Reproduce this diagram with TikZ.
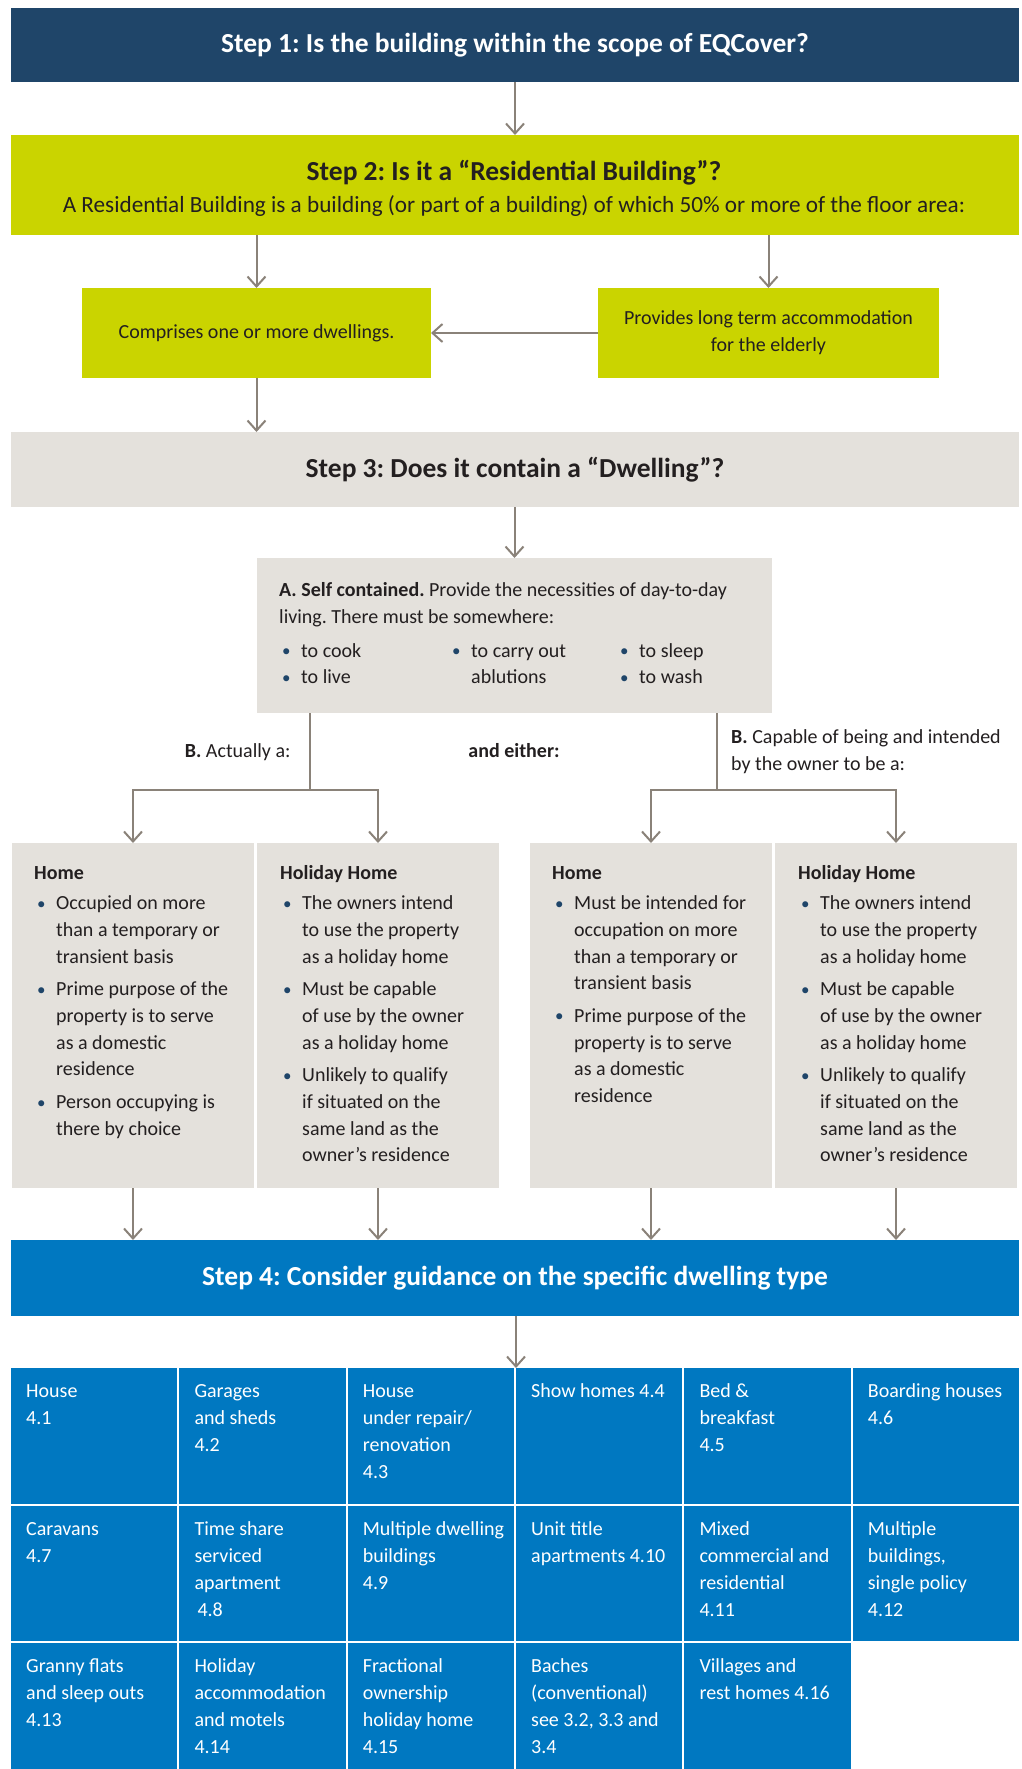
\documentclass[tikz,border=0pt]{standalone}
\usepackage{fontspec}
\setmainfont{Carlito}
\usetikzlibrary{arrows.meta}
\definecolor{navy}{HTML}{1F4569}
\definecolor{lime}{HTML}{CAD400}
\definecolor{greybox}{HTML}{E4E1DC}
\definecolor{bluebox}{HTML}{0078C1}
\definecolor{arrowc}{HTML}{8A8279}
\definecolor{bul}{HTML}{1F4569}
\definecolor{ink}{HTML}{231F20}
\frenchspacing
\newcommand\hv{\bfseries}
\newcommand\Bu{\makebox[19pt][l]{\textcolor{bul}{\raisebox{0.5pt}{\scalebox{0.85}{•}}}}}
\newcommand\Co{\hspace*{19pt}}
\newcommand\Bi{\hspace*{3pt}\Bu}
\newcommand\Ci{\hspace*{22pt}}
\tikzset{
  rbox/.style={inner sep=0pt, outer sep=0pt, anchor=north west, draw=none},
  navybox/.style={rbox, fill=navy},
  limebox/.style={rbox, fill=lime},
  greyb/.style={rbox, fill=greybox},
  cellbox/.style={rbox, fill=bluebox, minimum width=166.3pt},
  body/.style={font=\fontsize{20}{26.7}\selectfont\frenchspacing, text=ink},
  blocktext/.style={body, anchor=north west, inner sep=0pt, align=left},
  celltext/.style={font=\fontsize{20}{26.7}\selectfont\frenchspacing, text=white, anchor=north west, inner sep=0pt, align=left},
  steptitle/.style={font=\fontsize{27.5}{32}\selectfont\bfseries\frenchspacing},
  conn/.style={draw=arrowc, line width=2pt},
  arr/.style={conn, -{Straight Barb[length=10pt,width=18pt]}},
}
\newcommand\gcell[5]{%
  \node[cellbox, minimum height=#4pt] (#1) at (#2,#3) {};
  \node[celltext] (#1t) at (#2+15,#3+11) {\strut #5};}
\begin{document}
\begin{tikzpicture}[x=1pt,y=-1pt]
\fill[white] (0,0) rectangle (1022,1769);
\useasboundingbox (0,0) rectangle (1022,1769);

% Step 1
\node[navybox, minimum width=1008pt, minimum height=74pt] (s1) at (11,8) {};
\node[steptitle, text=white] (s1t) at (s1.center) {Step 1: Is the building within the scope of EQCover?};

% Step 2
\node[limebox, minimum width=1008pt, minimum height=100pt] (s2) at (11,135) {};
\node[steptitle, text=ink, anchor=base] (s2t) at (514,180) {Step 2: Is it a “Residential Building”?};
\node[font=\fontsize{23.2}{28}\selectfont\frenchspacing, text=ink, anchor=base] (s2s) at (514,212) {A Residential Building is a building (or part of a building) of which 50\% or more of the floor area:};

\node[limebox, minimum width=349pt, minimum height=90pt] (c1) at (82,288) {};
\node[body] (c1t) at (c1.center) {Comprises one or more dwellings.};
\node[limebox, minimum width=341pt, minimum height=90pt] (c2) at (598,288) {};
\node[body, align=center] (c2t) at (c2.center) {Provides long term accommodation\\for the elderly};

% Step 3
\node[greyb, minimum width=1008pt, minimum height=75pt] (s3) at (11,432) {};
\node[steptitle, text=ink] (s3t) at (s3.center) {Step 3: Does it contain a “Dwelling”?};

% A box
\node[greyb, minimum width=515pt, minimum height=155pt] (sa) at (257,558) {};
\node[blocktext] (sat) at (279,578) {\strut{\hv A. Self contained.} Provide the necessities of day-to-day\\
living. There must be somewhere:\\[7pt]
\hspace*{3pt}\makebox[170pt][l]{\Bu to cook}\makebox[168pt][l]{\Bu to carry out}\Bu to sleep\\
\hspace*{3pt}\makebox[170pt][l]{\Bu to live}\makebox[168pt][l]{\Co ablutions}\Bu to wash};

% labels
\node[body, anchor=base east] (lb1) at (294,757) {{\hv B.} Actually a:};
\node[body, anchor=base] (either) at (514,757) {\hv and either:};
\node[blocktext] (lb2) at (731,725) {\strut{\hv B.} Capable of being and intended\\by the owner to be a:};

% four boxes
\node[greyb, minimum width=242pt, minimum height=345pt] (h1) at (12,843) {};
\node[greyb, minimum width=242pt, minimum height=345pt] (h2) at (257,843) {};
\node[greyb, minimum width=242pt, minimum height=345pt] (h3) at (530,843) {};
\node[greyb, minimum width=242pt, minimum height=345pt] (h4) at (775,843) {};

\node[blocktext] (h1t) at (34,861) {\strut{\hv Home}\\[3pt]
\Bi Occupied on more\\ \Ci than a temporary or\\ \Ci transient basis\\[6pt]
\Bi Prime purpose of the\\ \Ci property is to serve\\ \Ci as a domestic\\ \Ci residence\\[6pt]
\Bi Person occupying is\\ \Ci there by choice};
\node[blocktext] (h2t) at (280,861) {\strut{\hv Holiday Home}\\[3pt]
\Bi The owners intend\\ \Ci to use the property\\ \Ci as a holiday home\\[6pt]
\Bi Must be capable\\ \Ci of use by the owner\\ \Ci as a holiday home\\[6pt]
\Bi Unlikely to qualify\\ \Ci if situated on the\\ \Ci same land as the\\ \Ci owner’s residence};
\node[blocktext] (h3t) at (552,861) {\strut{\hv Home}\\[3pt]
\Bi Must be intended for\\ \Ci occupation on more\\ \Ci than a temporary or\\ \Ci transient basis\\[6pt]
\Bi Prime purpose of the\\ \Ci property is to serve\\ \Ci as a domestic\\ \Ci residence};
\node[blocktext] (h4t) at (798,861) {\strut{\hv Holiday Home}\\[3pt]
\Bi The owners intend\\ \Ci to use the property\\ \Ci as a holiday home\\[6pt]
\Bi Must be capable\\ \Ci of use by the owner\\ \Ci as a holiday home\\[6pt]
\Bi Unlikely to qualify\\ \Ci if situated on the\\ \Ci same land as the\\ \Ci owner’s residence};

% Step 4
\node[rbox, fill=bluebox, minimum width=1008pt, minimum height=76pt] (s4) at (11,1240) {};
\node[steptitle, text=white] (s4t) at (s4.center) {Step 4: Consider guidance on the specific dwelling type};

% grid
\gcell{g11}{11}{1368}{136}{House\\4.1}
\gcell{g12}{179.33}{1368}{136}{Garages\\and sheds\\4.2}
\gcell{g13}{347.67}{1368}{136}{House\\under repair/\\renovation\\4.3}
\gcell{g14}{516}{1368}{136}{Show homes 4.4}
\gcell{g15}{684.33}{1368}{136}{Bed \&\\breakfast\\4.5}
\gcell{g16}{852.67}{1368}{136}{Boarding houses\\4.6}
\gcell{g21}{11}{1506}{135}{Caravans\\4.7}
\gcell{g22}{179.33}{1506}{135}{Time share\\serviced\\apartment\\\hspace*{3pt}4.8}
\gcell{g23}{347.67}{1506}{135}{Multiple dwelling\\buildings\\4.9}
\gcell{g24}{516}{1506}{135}{Unit title\\apartments 4.10}
\gcell{g25}{684.33}{1506}{135}{Mixed\\commercial and\\residential\\4.11}
\gcell{g26}{852.67}{1506}{135}{Multiple\\buildings,\\single policy\\4.12}
\gcell{g31}{11}{1643}{126}{Granny flats\\and sleep outs\\4.13}
\gcell{g32}{179.33}{1643}{126}{Holiday\\accommodation\\and motels\\4.14}
\gcell{g33}{347.67}{1643}{126}{Fractional\\ownership\\holiday home\\4.15}
\gcell{g34}{516}{1643}{126}{Baches\\(conventional)\\see 3.2, 3.3 and\\3.4}
\gcell{g35}{684.33}{1643}{126}{Villages and\\rest homes 4.16}

% connectors
\draw[arr] (s1.south) -- (s2.north);
\draw[arr] (s2.south -| c1.north) -- (c1.north);
\draw[arr] (s2.south -| c2.north) -- (c2.north);
\draw[arr] (c2.west) -- (c1.east);
\draw[arr] (c1.south) -- (c1.south |- s3.north);
\draw[arr] (s3.south -| sa.north) -- (sa.north);
\coordinate (jl) at (310,790);
\coordinate (jr) at (717,790);
\draw[conn] (sa.south -| jl) -- (jl);
\draw[conn] (sa.south -| jr) -- (jr);
\draw[arr] (jl) -| (h1.north);
\draw[arr] (jl) -| (h2.north);
\draw[arr] (jr) -| (h3.north);
\draw[arr] (jr) -| (h4.north);
\draw[arr] (h1.south) -- (h1.south |- s4.north);
\draw[arr] (h2.south) -- (h2.south |- s4.north);
\draw[arr] (h3.south) -- (h3.south |- s4.north);
\draw[arr] (h4.south) -- (h4.south |- s4.north);
\draw[arr] (s4.south -| g14.north west) -- (g14.north west);
\end{tikzpicture}
\end{document}
